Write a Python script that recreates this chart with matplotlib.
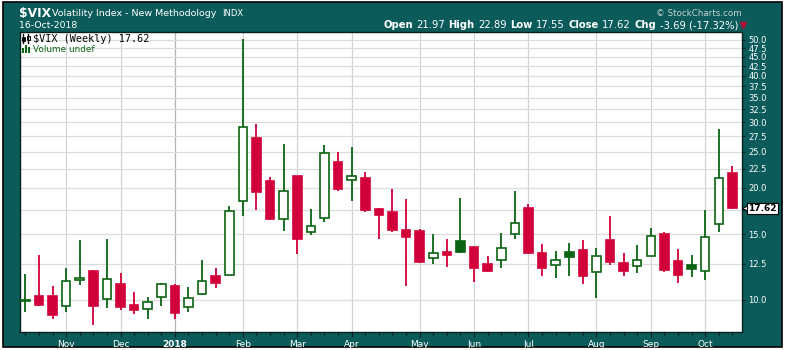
import matplotlib.pyplot as plt
import matplotlib.patches as mpatches
import matplotlib.transforms as mtransforms
from matplotlib.lines import Line2D
from matplotlib.ticker import NullLocator
import numpy as np
import pandas as pd

# $VIX weekly bars, week of 16-Oct-2017 through 16-Oct-2018
week_start = '2017-10-16'
opens = [9.91, 10.25, 10.27, 9.63, 11.33, 11.98, 10.06, 11.06, 9.69, 9.45,
         10.18, 10.93, 9.57, 10.37, 11.62, 11.66, 18.43, 27.20, 20.90, 16.50,
         21.56, 15.22, 16.60, 23.50, 21.00, 21.30, 17.58, 17.27, 15.44, 15.35,
         12.96, 13.45, 14.39, 13.90, 12.51, 12.81, 15.03, 17.65, 13.37, 12.41,
         13.45, 13.62, 11.88, 14.48, 12.56, 12.34, 13.12, 15.07, 12.76, 12.44,
         11.95, 15.99, 21.97]
highs = [11.76, 13.23, 10.93, 12.18, 14.51, 12.02, 14.60, 11.81, 10.52, 10.20,
         11.10, 11.06, 10.86, 12.83, 12.20, 17.89, 50.30, 29.70, 21.40, 26.30,
         21.60, 17.58, 26.10, 25.00, 25.80, 22.10, 17.65, 19.90, 18.70, 15.53,
         15.07, 14.60, 18.80, 13.90, 13.14, 15.12, 19.65, 18.10, 14.14, 13.54,
         14.20, 14.48, 13.79, 16.83, 13.40, 14.07, 15.64, 15.26, 13.71, 13.23,
         17.40, 28.85, 22.89]
lows = [9.28, 9.65, 8.91, 9.28, 10.95, 8.55, 9.50, 9.40, 9.17, 8.87,
        9.65, 8.86, 9.26, 10.30, 10.75, 11.66, 16.76, 17.40, 16.40, 15.29,
        13.25, 14.92, 16.15, 19.57, 18.50, 17.20, 14.54, 15.20, 10.88, 12.60,
        12.48, 12.23, 13.35, 11.15, 11.86, 12.16, 14.54, 13.30, 11.60, 11.44,
        11.60, 11.03, 10.09, 12.41, 11.60, 11.79, 13.10, 11.86, 11.08, 11.50,
        11.29, 15.20, 17.55]
closes = [9.97, 9.71, 9.09, 11.24, 11.43, 9.61, 11.38, 9.56, 9.42, 9.87,
          11.04, 9.22, 10.12, 11.27, 11.08, 17.33, 29.10, 19.46, 16.46, 19.61,
          14.54, 15.79, 24.80, 19.93, 21.50, 17.40, 16.87, 15.38, 14.73, 12.62,
          13.37, 13.17, 13.42, 12.16, 11.93, 13.79, 16.06, 13.40, 12.16, 12.78,
          13.01, 11.60, 13.12, 12.62, 11.93, 12.81, 14.85, 12.00, 11.64, 12.09,
          14.76, 21.31, 17.62]
y_levels = [10.0, 12.5, 15.0, 17.5, 20.0, 22.5, 25.0, 27.5, 30.0, 32.5,
            35.0, 37.5, 40.0, 42.5, 45.0, 47.5, 50.0]

TEAL = '#0a5b59'
RED = '#d2003a'
GREEN = '#0b6412'

W, H = 786, 350
fig = plt.figure(figsize=(W / 100, H / 100), dpi=100, facecolor='white')


def fx(px):
    return px / W


def fy(py):
    return 1 - py / H


# dark frame behind everything
fig.add_artist(mpatches.Rectangle((fx(3), fy(347)), 779 / W, 345 / H,
                                  transform=fig.transFigure, facecolor=TEAL,
                                  edgecolor='black', lw=1.2, zorder=0))

ax = fig.add_axes([fx(20), 18 / H, 722 / W, 300 / H])
ax.set_facecolor('white')

o, h, l, c = (np.array(a) for a in (opens, highs, lows, closes))
n = len(c)
x = np.arange(n)
prev = np.r_[o[0], c[:-1]]
edge = np.where(c >= prev, GREEN, RED)
face = np.where(c > o, 'white', edge)

ax.vlines(x, l, h, colors=edge, lw=1.3, zorder=2)
ax.bar(x, np.abs(c - o), width=0.62, bottom=np.minimum(o, c), color=face,
       edgecolor=edge, linewidth=1.2, zorder=3)

ax.set_yscale('log')
ax.set_ylim(8.2, 52.5)
ax.set_xlim(-0.39, n - 0.3)

# y axis on the right; the level under the last-price tag stays unlabelled
ax.yaxis.tick_right()
ax.set_yticks(y_levels)
ax.set_yticklabels(['' if abs(v - c[-1]) < 1 else f'{v:.1f}' for v in y_levels])
ax.yaxis.set_minor_locator(NullLocator())
ax.tick_params(axis='y', which='major', labelcolor='white', color='#062020',
               length=2.5, width=0.8, labelsize=6, pad=2)

# month ticks at the first week of each month
weeks = pd.date_range(week_start, periods=n, freq='7D')
month_idx = [i for i in range(1, n) if weeks[i].month != weeks[i - 1].month]
month_lbl = [str(weeks[i].year) if weeks[i].month == 1 else weeks[i].strftime('%b')
             for i in month_idx]
ax.set_xticks(month_idx)
ax.set_xticklabels(month_lbl)
ax.set_xticks(x, minor=True)
ax.tick_params(axis='x', which='major', labelcolor='white', color='#062020',
               length=3.5, width=0.8, labelsize=6.5, pad=2)
ax.tick_params(axis='x', which='minor', color='#062020', length=2, width=0.8)
for t, lbl in zip(ax.get_xticklabels(), month_lbl):
    if lbl.isdigit():
        t.set_fontweight('bold')

ax.grid(axis='y', which='major', color='#dcdcdc', lw=0.9, zorder=0)
ax.grid(axis='x', which='major', color='#d4d4d4', lw=0.9, zorder=0)
for gl, lbl in zip(ax.get_xgridlines(), month_lbl):
    if lbl.isdigit():
        gl.set_color('#b4b4b4')
ax.set_axisbelow(True)
for sp in ax.spines.values():
    sp.set_color('#062020')
    sp.set_linewidth(1.0)

# last price tag on the price axis
blend = mtransforms.blended_transform_factory(ax.transAxes, ax.transData)
ax.plot([1 + 3 / 722], [c[-1]], marker='<', ms=5, mfc='white', mec='black',
        mew=0.8, transform=blend, clip_on=False, zorder=9)
ax.text(1 + 6 / 722, c[-1], f'{c[-1]:.2f}', transform=blend, fontsize=6.5,
        fontweight='bold', va='center', ha='left', color='black', zorder=10,
        clip_on=False,
        bbox=dict(boxstyle='square,pad=0.15', fc='white', ec='black', lw=0.8))

# header
fig.text(fx(19), fy(16.5), '$VIX', color='white', fontsize=8.8,
         fontweight='bold', va='baseline')
fig.text(fx(52), fy(16.5), 'Volatility Index - New Methodology', color='white',
         fontsize=6.8, va='baseline')
fig.text(fx(222), fy(16.5), 'INDX', color='white', fontsize=6, va='baseline')
fig.text(fx(19), fy(28.5), '16-Oct-2018', color='white', fontsize=6.7,
         va='baseline')
fig.text(fx(742), fy(16), '\u00a9 StockCharts.com', color='#c8d2d2',
         fontsize=6.3, ha='right', va='baseline')

chg = c[-1] - c[-2]
pct = chg / c[-2] * 100
pieces = [('Open', True), (f'{o[-1]:.2f}', False),
          ('High', True), (f'{h[-1]:.2f}', False),
          ('Low', True), (f'{l[-1]:.2f}', False),
          ('Close', True), (f'{c[-1]:.2f}', False),
          ('Chg', True), (f'{chg:.2f} ({pct:.2f}%)', False)]
renderer = fig.canvas.get_renderer()
xpos = 383
for s, bold in pieces:
    t = fig.text(fx(xpos), fy(28.5), s, color='white', fontsize=7.2,
                 fontweight='bold' if bold else 'normal', va='baseline')
    xpos += t.get_window_extent(renderer).width + 3.5
fig.add_artist(Line2D([fx(xpos + 2)], [fy(25)], marker='v', ms=4,
                      color='#b0103a', transform=fig.transFigure))

# legend block inside the chart
fig.add_artist(Line2D([fx(23), fx(23)], [fy(34), fy(43)], color='black', lw=1,
                      transform=fig.transFigure))
fig.add_artist(mpatches.Rectangle((fx(21.5), fy(41)), 3 / W, 4 / H,
                                  transform=fig.transFigure, fc='black', ec='black', lw=0.5))
fig.add_artist(Line2D([fx(28), fx(28)], [fy(34), fy(43)], color='black', lw=1,
                      transform=fig.transFigure))
fig.add_artist(mpatches.Rectangle((fx(26.5), fy(40)), 3 / W, 4 / H,
                                  transform=fig.transFigure, fc='white', ec='black', lw=0.7))
fig.text(fx(33), fy(38.5), f'$VIX (Weekly) {c[-1]:.2f}', color='black',
         fontsize=7.3, family='DejaVu Sans Mono', va='center')
for bx, bh in zip([21.5, 24.5, 27.5], [5, 8, 6]):
    fig.add_artist(mpatches.Rectangle((fx(bx), fy(53)), 2 / W, bh / H,
                                      transform=fig.transFigure, fc=GREEN, ec='none'))
fig.text(fx(33), fy(49), 'Volume undef', color=GREEN, fontsize=6.4, va='center')

fig.savefig('out.png', dpi=100, facecolor='white')
